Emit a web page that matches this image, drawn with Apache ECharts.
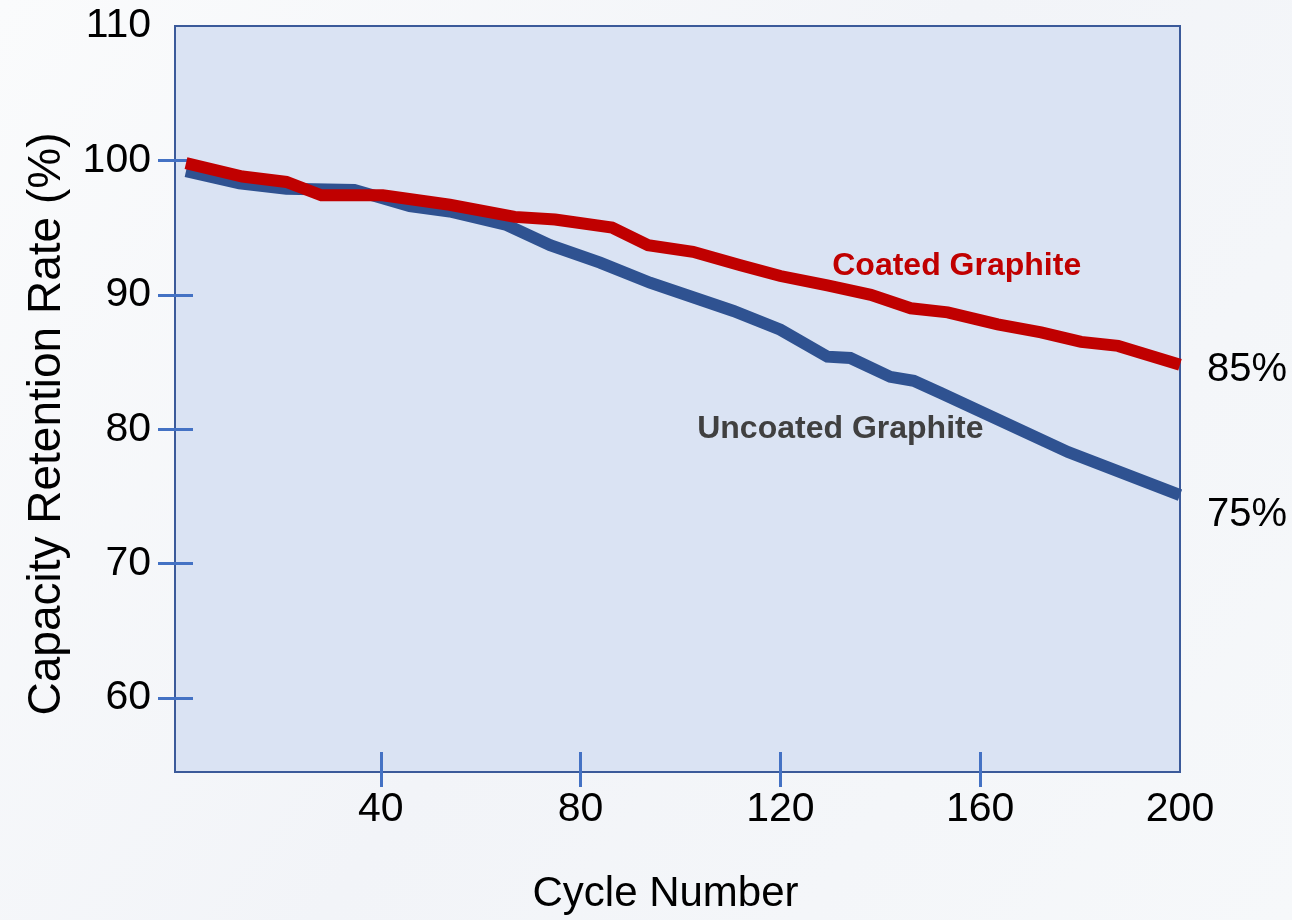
<!DOCTYPE html>
<html>
<head>
<meta charset="utf-8">
<script src="https://cdn.jsdelivr.net/npm/echarts@6/dist/echarts.min.js"></script>
<style>
  html, body { margin: 0; padding: 0; }
  #chart { width: 1292px; height: 920px; }
</style>
</head>
<body>
<div id="chart"></div>
<script>
// ---- data ----
const coatedCycles   = [1, 12.3, 21.1, 28.1, 40.4, 53.8, 66.8, 74.9, 86.3, 93.5, 102.5, 112, 120, 129.4, 138.1, 146.1, 153.5, 163.5, 172.2, 180.2, 187.6, 200];
const coatedRates    = [99.8, 98.8, 98.4, 97.4, 97.4, 96.7, 95.8, 95.6, 95.0, 93.7, 93.2, 92.2, 91.4, 90.7, 90.0, 89.0, 88.7, 87.8, 87.2, 86.5, 86.2, 84.8];
const uncoatedCycles = [1, 11.7, 21.1, 34.7, 45.8, 53.8, 65.2, 73.9, 83.9, 93.9, 110.6, 120, 129.4, 134, 142, 146.7, 152.1, 177.6, 200];
const uncoatedRates  = [99.2, 98.3, 97.9, 97.8, 96.6, 96.2, 95.2, 93.7, 92.4, 90.9, 88.8, 87.4, 85.4, 85.3, 83.9, 83.6, 82.7, 78.3, 75.1];
const seriesNames    = ['Coated Graphite', 'Uncoated Graphite'];
const xTickLabels    = [40, 80, 120, 160, 200];
const xTickMarks     = [40, 80, 120, 160];
const yTickLabels    = [60, 70, 80, 90, 100, 110];
const yTickMarks     = [60, 70, 80, 90, 100];
const annotationCycles = [155.3, 132];
const annotationRates  = [92.1, 80.0];

const FONT = "'Liberation Sans', Arial, sans-serif";
const RED = '#c00000';
const BLUE = '#2f5291';
const TICK = '#4472c4';
const AXIS = '#3b5a9a';

const pairs = (xs, ys) => xs.map((x, i) => [x, ys[i]]);

const xBase = { type: 'value', min: -1.2, max: 200, splitLine: { show: false } };
const yBase = { type: 'value', min: 54.5, max: 110, splitLine: { show: false } };

const chart = echarts.init(document.getElementById('chart'), null, { renderer: 'canvas' });
chart.setOption({
  animation: false,
  backgroundColor: {
    type: 'linear', x: 0, y: 0, x2: 1, y2: 1,
    colorStops: [{ offset: 0, color: '#fafbfc' }, { offset: 0.5, color: '#f2f4f8' }, { offset: 1, color: '#f6f8fa' }]
  },
  grid: {
    left: 175, right: 112, top: 26, bottom: 147,
    show: true, backgroundColor: '#dae3f3', borderColor: AXIS, borderWidth: 2
  },
  xAxis: [
    Object.assign({}, xBase, {
      position: 'bottom',
      name: 'Cycle Number', nameLocation: 'middle', nameGap: 101,
      nameTextStyle: { fontFamily: FONT, fontSize: 42, color: '#000', padding: [0, 24, 0, 0] },
      axisLine: { show: true, onZero: false, lineStyle: { color: AXIS, width: 2 } },
      axisTick: { show: true, inside: false, length: 15, customValues: xTickMarks, lineStyle: { color: TICK, width: 3 } },
      axisLabel: { show: true, customValues: xTickLabels, margin: 17, fontFamily: FONT, fontSize: 41, color: '#000' }
    }),
    Object.assign({}, xBase, {
      position: 'bottom',
      axisLine: { show: false, onZero: false },
      axisTick: { show: true, inside: true, length: 20, customValues: xTickMarks, lineStyle: { color: TICK, width: 3 } },
      axisLabel: { show: false }
    })
  ],
  yAxis: [
    Object.assign({}, yBase, {
      position: 'left',
      name: 'Capacity Retention Rate (%)', nameLocation: 'middle', nameRotate: 90, nameGap: 105,
      nameTextStyle: { fontFamily: FONT, fontSize: 46, color: '#000', padding: [0, 50, 0, 0] },
      axisLine: { show: true, onZero: false, lineStyle: { color: AXIS, width: 2 } },
      axisTick: { show: true, inside: false, length: 17, customValues: yTickMarks, lineStyle: { color: TICK, width: 3 } },
      axisLabel: { show: true, customValues: yTickLabels, margin: 24, padding: [6, 0, 0, 0], fontFamily: FONT, fontSize: 41, color: '#000' }
    }),
    Object.assign({}, yBase, {
      position: 'left',
      axisLine: { show: false, onZero: false },
      axisTick: { show: true, inside: true, length: 18, customValues: yTickMarks, lineStyle: { color: TICK, width: 3 } },
      axisLabel: { show: false }
    })
  ],
  series: [
    {
      name: seriesNames[1], type: 'line', xAxisIndex: 0, yAxisIndex: 0,
      data: pairs(uncoatedCycles, uncoatedRates),
      showSymbol: false, symbol: 'none', clip: true,
      lineStyle: { color: BLUE, width: 12, join: 'miter' },
      endLabel: {
        show: true, distance: 27, offset: [0, 20],
        formatter: p => Math.round(p.value[1]) + '%',
        fontFamily: FONT, fontSize: 40, color: '#000'
      },
      markPoint: {
        symbol: 'circle', symbolSize: 0, silent: true,
        label: { show: true, position: 'inside', formatter: '{b}', fontFamily: FONT, fontWeight: 'bold', fontSize: 32, color: '#404040' },
        data: [{ name: seriesNames[1], coord: [annotationCycles[1], annotationRates[1]] }]
      },
      z: 2
    },
    {
      name: seriesNames[0], type: 'line', xAxisIndex: 0, yAxisIndex: 0,
      data: pairs(coatedCycles, coatedRates),
      showSymbol: false, symbol: 'none', clip: true,
      lineStyle: { color: RED, width: 12, join: 'miter' },
      endLabel: {
        show: true, distance: 27, offset: [0, 5],
        formatter: p => Math.round(p.value[1]) + '%',
        fontFamily: FONT, fontSize: 40, color: '#000'
      },
      markPoint: {
        symbol: 'circle', symbolSize: 0, silent: true,
        label: { show: true, position: 'inside', formatter: '{b}', fontFamily: FONT, fontWeight: 'bold', fontSize: 32, color: RED },
        data: [{ name: seriesNames[0], coord: [annotationCycles[0], annotationRates[0]] }]
      },
      z: 3
    }
  ]
});
</script>
</body>
</html>
